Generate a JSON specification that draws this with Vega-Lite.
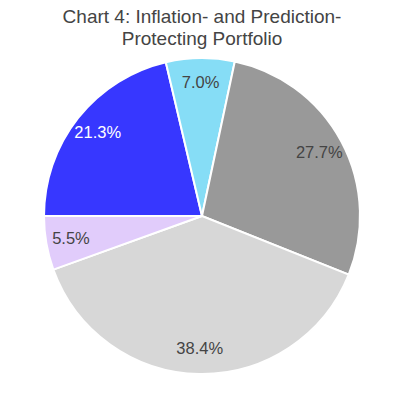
{
  "$schema": "https://vega.github.io/schema/vega-lite/v6.json",
  "width": 388,
  "height": 316,
  "autosize": {"type": "none"},
  "padding": {"left": 8, "top": 58, "right": 0, "bottom": 0},
  "background": "white",
  "title": {
    "text": ["Chart 4: Inflation- and Prediction-", "Protecting Portfolio"],
    "font": "Liberation Sans",
    "fontSize": 19,
    "fontWeight": "normal",
    "color": "#444444",
    "anchor": "middle",
    "frame": "group",
    "lineHeight": 22,
    "offset": 5
  },
  "data": {
    "values": [
      {"rank": 1, "slice": "Slice A", "share": 0.213},
      {"rank": 2, "slice": "Slice B", "share": 0.070},
      {"rank": 3, "slice": "Slice C", "share": 0.277},
      {"rank": 4, "slice": "Slice D", "share": 0.384},
      {"rank": 5, "slice": "Slice E", "share": 0.055}
    ]
  },
  "encoding": {
    "theta": {
      "field": "share",
      "type": "quantitative",
      "stack": true,
      "scale": {"range": [4.71238898, 10.99557429]}
    },
    "order": {"field": "rank", "type": "quantitative"}
  },
  "layer": [
    {
      "mark": {"type": "arc", "outerRadius": 158, "stroke": "white", "strokeWidth": 2},
      "encoding": {
        "color": {
          "field": "slice",
          "type": "nominal",
          "scale": {
            "domain": ["Slice A", "Slice B", "Slice C", "Slice D", "Slice E"],
            "range": ["#3737FF", "#86DDF6", "#999999", "#D7D7D7", "#E1CCFB"]
          },
          "legend": null
        }
      }
    },
    {
      "mark": {"type": "text", "radius": 133, "font": "Liberation Sans", "fontSize": 16.5, "baseline": "middle", "align": "center"},
      "encoding": {
        "text": {"field": "share", "type": "quantitative", "format": ".1%"},
        "color": {
          "condition": {"test": "datum.slice === 'Slice A'", "value": "white"},
          "value": "#444444"
        }
      }
    }
  ]
}
